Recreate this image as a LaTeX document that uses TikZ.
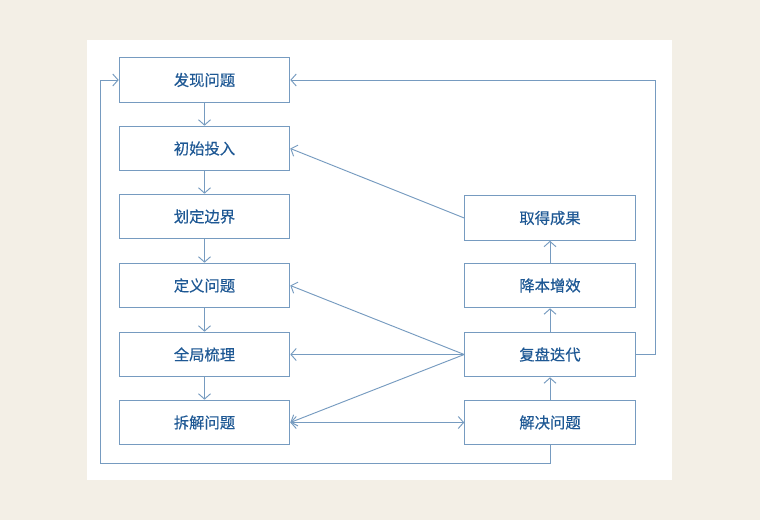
\documentclass[tikz,border=0pt]{standalone}
\usepackage{fontspec}
\setmainfont{Noto Sans CJK SC}
\usetikzlibrary{arrows.meta,positioning}
\definecolor{flowblue}{RGB}{118,155,192}
\definecolor{textblue}{RGB}{30,88,148}
\definecolor{paper}{RGB}{243,239,230}

\begin{document}
\begin{tikzpicture}[x=0.75pt,y=-0.75pt,>={Straight Barb[length=4pt,width=9pt]},
  stagebox/.style={draw=flowblue, line width=0.7pt, fill=white, minimum width=128pt, minimum height=33.5pt, inner sep=0pt, text=textblue, font=\fontsize{11.5}{14}\selectfont\addfontfeature{FakeBold=0.35}},
  flow/.style={draw=flowblue, line width=0.7pt, ->}]
\fill[paper] (0,0) rectangle (760,520);
\fill[white] (87,40) rectangle (672,480);
% left column
\node[stagebox] (faxian) at (204.5,80) {发现问题};
\node[stagebox] (chushi) at (204.5,148.5) {初始投入};
\node[stagebox] (bianjie) at (204.5,216.5) {划定边界};
\node[stagebox] (dingyi) at (204.5,285.5) {定义问题};
\node[stagebox] (quanju) at (204.5,354.5) {全局梳理};
\node[stagebox] (chaijie) at (204.5,422.5) {拆解问题};
% right column
\node[stagebox] (qude) at (550,218) {取得成果};
\node[stagebox] (jiangben) at (550,285.5) {降本增效};
\node[stagebox] (fupan) at (550,354.5) {复盘迭代};
\node[stagebox] (jiejue) at (550,422.5) {解决问题};
\coordinate (lowturn) at (100,463);
\coordinate (highturn) at (655,80);
% down the left
\draw[flow] (faxian) -- (chushi);
\draw[flow] (chushi) -- (bianjie);
\draw[flow] (bianjie) -- (dingyi);
\draw[flow] (dingyi) -- (quanju);
\draw[flow] (quanju) -- (chaijie);
% up the right
\draw[flow] (jiejue) -- (fupan);
\draw[flow] (fupan) -- (jiangben);
\draw[flow] (jiangben) -- (qude);
% cross links
\draw[flow] (qude.west) -- (chushi.east);
\draw[flow] (fupan.west) -- (dingyi.east);
\draw[flow] (fupan.west) -- (quanju.east);
\draw[flow] (fupan.west) -- (chaijie.east);
\draw[flow, <->] (chaijie.east) -- (jiejue.west);
% loops back to the start
\draw[flow] (jiejue.south) |- (lowturn) |- (faxian.west);
\draw[flow] (fupan.east) -| (highturn) -- (faxian.east);
\end{tikzpicture}
\end{document}
